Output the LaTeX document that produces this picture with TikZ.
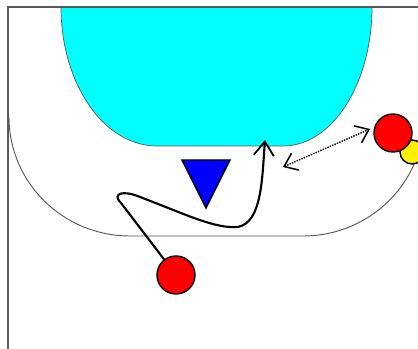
\documentclass[tikz,border=0pt]{standalone}
\usepackage{tikz}
\usetikzlibrary{arrows.meta,positioning,calc}
\definecolor{keyCyan}{RGB}{0,255,255}
\definecolor{lineGray}{RGB}{90,90,90}
\tikzset{
	player/.style={
		circle,
		draw=black,
		fill=red,
		line width=1.2pt,
		inner sep=0pt,
		minimum size=1.14cm
	},
	ball/.style={circle, draw=black, fill=yellow, line width=1.2pt, inner sep=0pt, minimum size=0.72cm},
	courtline/.style={lineGray, line width=1pt},
	dribble/.style={-{Straight Barb[length=4.2mm, width=6mm, line width=1.5pt]}, line width=1.8pt, black},
	pass/.style={{Straight Barb[length=3.6mm, width=5.5mm, line width=1.3pt]}-{Straight Barb[length=3.6mm, width=5.5mm, line width=1.3pt]}, line width=1.2pt, densely dotted, black}
}
\begin{document}
\begin{tikzpicture}[x=0.03cm, y=0.03cm]
		\useasboundingbox (0,0) rectangle (418,349);
		\clip (0,0) rectangle (418,349);
		\fill[white] (0,0) rectangle (418,349);
		% key
		\draw[fill=keyCyan, draw=lineGray, line width=0.6pt] (61,342) arc[start angle=180, end angle=270, x radius=96, y radius=139] -- (283,203) arc[start angle=270, end angle=360, x radius=89, y radius=139] -- cycle;
		% three point line
		\draw[courtline, line width=0.8pt] (9,232) arc[start angle=180, end angle=270, x radius=121, y radius=119] -- (303,113) arc[start angle=270, end angle=360, x radius=121, y radius=119];
		% baseline and sideline
		\draw[courtline] (418,342) -- (8,342) -- (8,0);
		% defender
		\draw[fill=blue, draw=black, line width=1.2pt] (182,189) -- (230,189) -- (206,141) -- cycle;
		% players
		\node[ball] (ball) at (412,197) {};
		\node[player] (rr) at (393,216) {};
		\node[player] (rb) at (176,74) {};
		\coordinate (cut) at (265,209);
		\coordinate (passA) at (283,182);
		\coordinate (passB) at (370,220);
		\draw[dribble] (rb) -- (121,146) .. controls (111,156) and (124,159) .. (140,152) .. controls (185,135) and (215,120) .. (238,122) .. controls (262,127) and (262,170) .. (cut);
		\draw[pass] (passA) -- (passB);
	\end{tikzpicture}
\end{document}
